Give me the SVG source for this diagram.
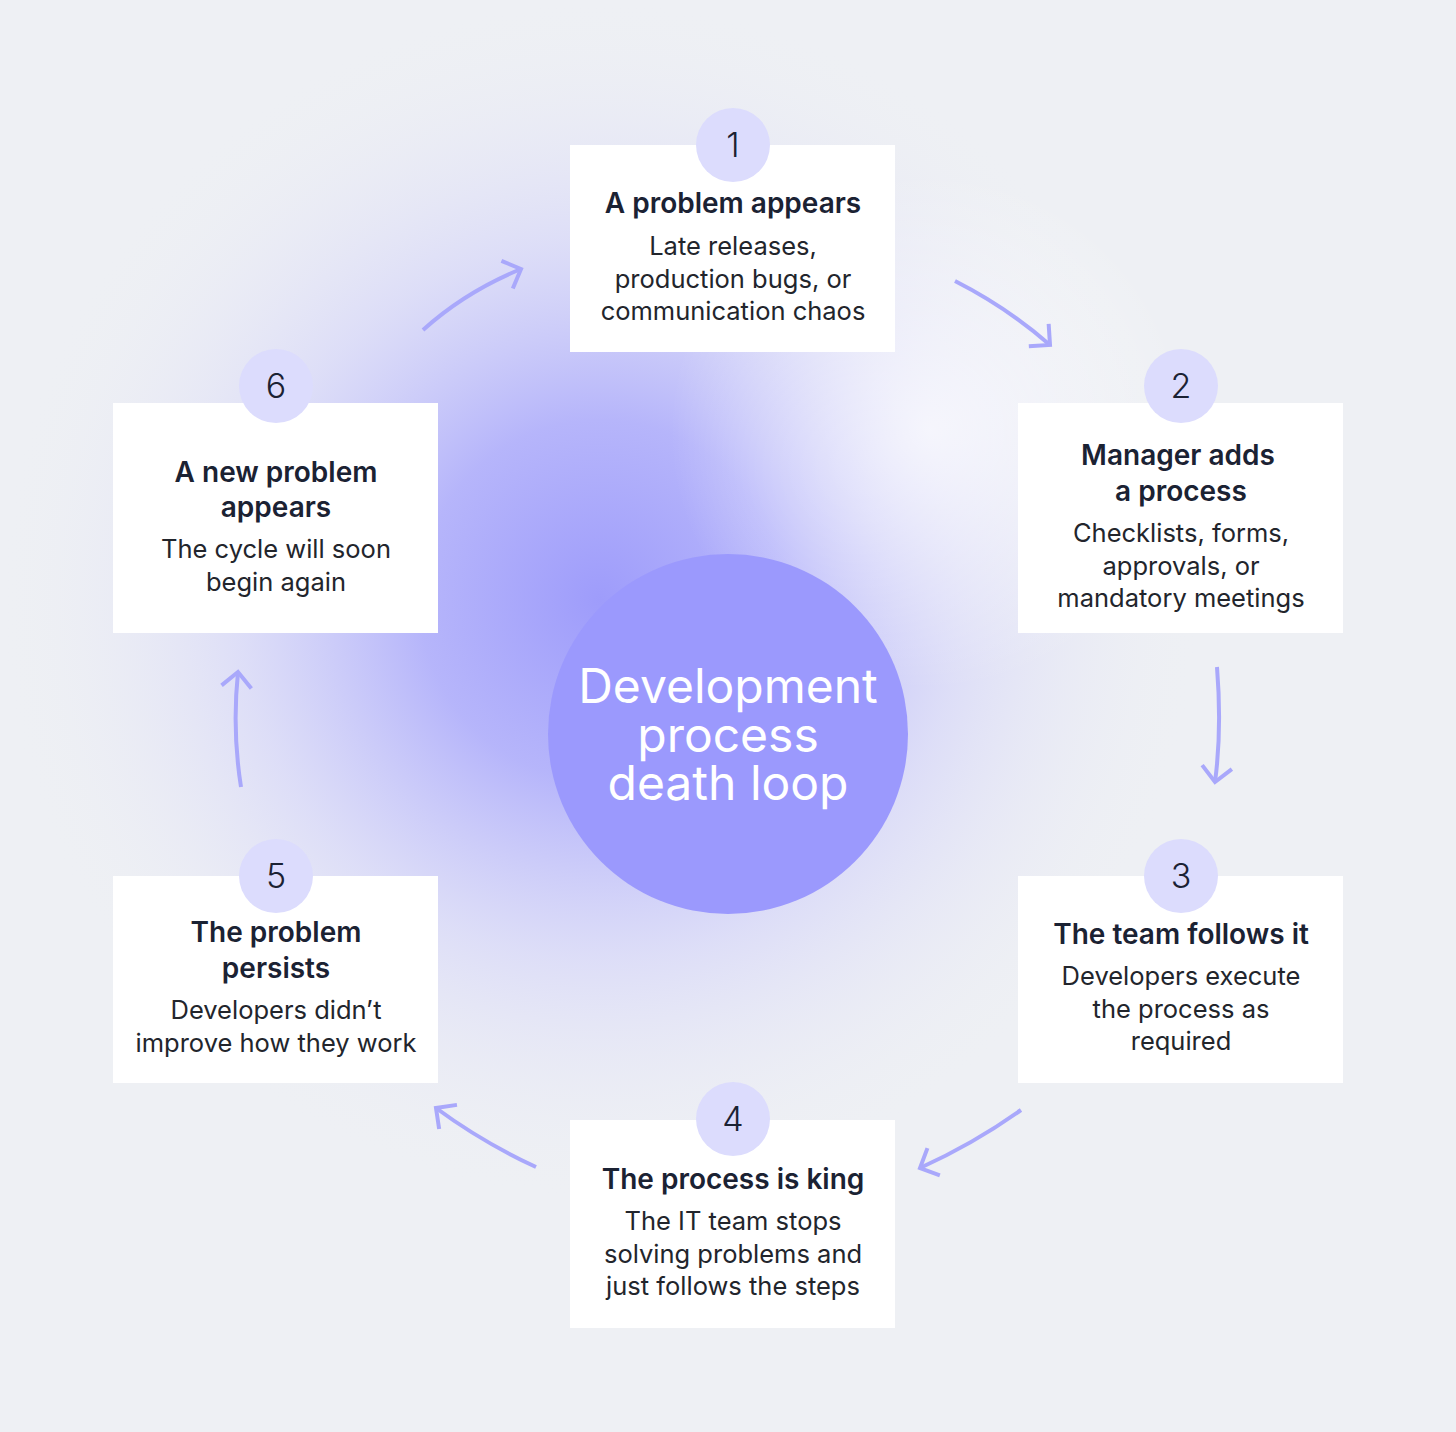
<svg xmlns="http://www.w3.org/2000/svg" width="1456" height="1432" viewBox="0 0 1456 1432">
  <defs>
    <radialGradient id="glow" cx="600" cy="600" r="600" gradientUnits="userSpaceOnUse">
      <stop offset="0" stop-color="#9e9cfb" stop-opacity="1"/>
      <stop offset="0.3" stop-color="#b3b2fb" stop-opacity="0.95"/>
      <stop offset="0.6" stop-color="#d6d6f9" stop-opacity="0.7"/>
      <stop offset="0.85" stop-color="#e6e7f6" stop-opacity="0.3"/>
      <stop offset="1" stop-color="#eef0f4" stop-opacity="0"/>
    </radialGradient>
    <radialGradient id="shine" cx="930" cy="430" r="260" gradientUnits="userSpaceOnUse">
      <stop offset="0" stop-color="#ffffff" stop-opacity="0.7"/>
      <stop offset="1" stop-color="#ffffff" stop-opacity="0"/>
    </radialGradient>
    <marker id="head" markerUnits="userSpaceOnUse" viewBox="-20 -20 26 40" refX="0" refY="0" markerWidth="26" markerHeight="40" orient="auto">
      <path d="M -15 -15 L 0 0 L -15 15" fill="none" stroke="#a9a8fb" stroke-width="4" stroke-linecap="butt" stroke-linejoin="miter"/>
    </marker>
    <style>
      .box { fill: #ffffff; }
      .badge { fill: #dcdcfd; }
      .num { font-family: Inter, "Noto Sans", sans-serif; font-size: 34px; font-weight: 300; fill: #1b2233; text-anchor: middle; }
      .title { font-family: Inter, "Noto Sans", sans-serif; font-size: 28px; font-weight: 600; fill: #1b2233; text-anchor: middle; }
      .body { font-family: Inter, "Noto Sans", sans-serif; font-size: 25.5px; fill: #22252c; text-anchor: middle; }
      .center { font-family: Inter, "Noto Sans", sans-serif; font-size: 48px; font-weight: 400; fill: #ffffff; text-anchor: middle; }
      .arrow { fill: none; stroke: #a9a8fb; stroke-width: 4; stroke-linecap: butt; marker-end: url(#head); }
    </style>
  </defs>

  <rect width="1456" height="1432" fill="#eef0f4"/>
  <rect width="1456" height="1432" fill="url(#glow)"/>
  <rect width="1456" height="1432" fill="url(#shine)"/>

  <g id="center">
    <circle cx="728" cy="734" r="180" fill="#9b99fd"/>
    <text class="center" x="728" y="703">Development</text>
    <text class="center" x="728" y="752">process</text>
    <text class="center" x="728" y="800">death loop</text>
  </g>

  <g id="connectors">
    <path class="arrow" d="M 423 330 Q 465 292 521 269"/>
    <path class="arrow" d="M 955 281 Q 1008 308 1050 345"/>
    <path class="arrow" d="M 1217 667 Q 1222 730 1215 782"/>
    <path class="arrow" d="M 1021 1110 Q 975 1143 920 1168"/>
    <path class="arrow" d="M 536 1167 Q 482 1142 436 1108"/>
    <path class="arrow" d="M 241 787 Q 232 730 238 672"/>
  </g>

  <g id="node1">
    <rect class="box" x="570" y="145" width="325" height="207"/>
    <circle class="badge" cx="733" cy="145" r="37"/>
    <text class="num" x="733" y="157">1</text>
    <text class="title" x="733" y="213">A problem appears</text>
    <text class="body" x="733" y="255">Late releases,</text>
    <text class="body" x="733" y="288">production bugs, or</text>
    <text class="body" x="733" y="320">communication chaos</text>
  </g>

  <g id="node2">
    <rect class="box" x="1018" y="403" width="325" height="230"/>
    <circle class="badge" cx="1181" cy="386" r="37"/>
    <text class="num" x="1181" y="398">2</text>
    <text class="title" x="1178" y="465">Manager adds</text>
    <text class="title" x="1181" y="501">a process</text>
    <text class="body" x="1181" y="542">Checklists, forms,</text>
    <text class="body" x="1181" y="575">approvals, or</text>
    <text class="body" x="1181" y="607">mandatory meetings</text>
  </g>

  <g id="node3">
    <rect class="box" x="1018" y="876" width="325" height="207"/>
    <circle class="badge" cx="1181" cy="876" r="37"/>
    <text class="num" x="1181" y="888">3</text>
    <text class="title" x="1181" y="944">The team follows it</text>
    <text class="body" x="1181" y="985">Developers execute</text>
    <text class="body" x="1181" y="1018">the process as</text>
    <text class="body" x="1181" y="1050">required</text>
  </g>

  <g id="node4">
    <rect class="box" x="570" y="1120" width="325" height="208"/>
    <circle class="badge" cx="733" cy="1119" r="37"/>
    <text class="num" x="733" y="1131">4</text>
    <text class="title" x="733" y="1189">The process is king</text>
    <text class="body" x="733" y="1230">The IT team stops</text>
    <text class="body" x="733" y="1263">solving problems and</text>
    <text class="body" x="733" y="1295">just follows the steps</text>
  </g>

  <g id="node5">
    <rect class="box" x="113" y="876" width="325" height="207"/>
    <circle class="badge" cx="276" cy="876" r="37"/>
    <text class="num" x="276" y="888">5</text>
    <text class="title" x="276" y="942">The problem</text>
    <text class="title" x="276" y="978">persists</text>
    <text class="body" x="276" y="1019">Developers didn’t</text>
    <text class="body" x="276" y="1052">improve how they work</text>
  </g>

  <g id="node6">
    <rect class="box" x="113" y="403" width="325" height="230"/>
    <circle class="badge" cx="276" cy="386" r="37"/>
    <text class="num" x="276" y="398">6</text>
    <text class="title" x="276" y="482">A new problem</text>
    <text class="title" x="276" y="517">appears</text>
    <text class="body" x="276" y="558">The cycle will soon</text>
    <text class="body" x="276" y="591">begin again</text>
  </g>
</svg>
